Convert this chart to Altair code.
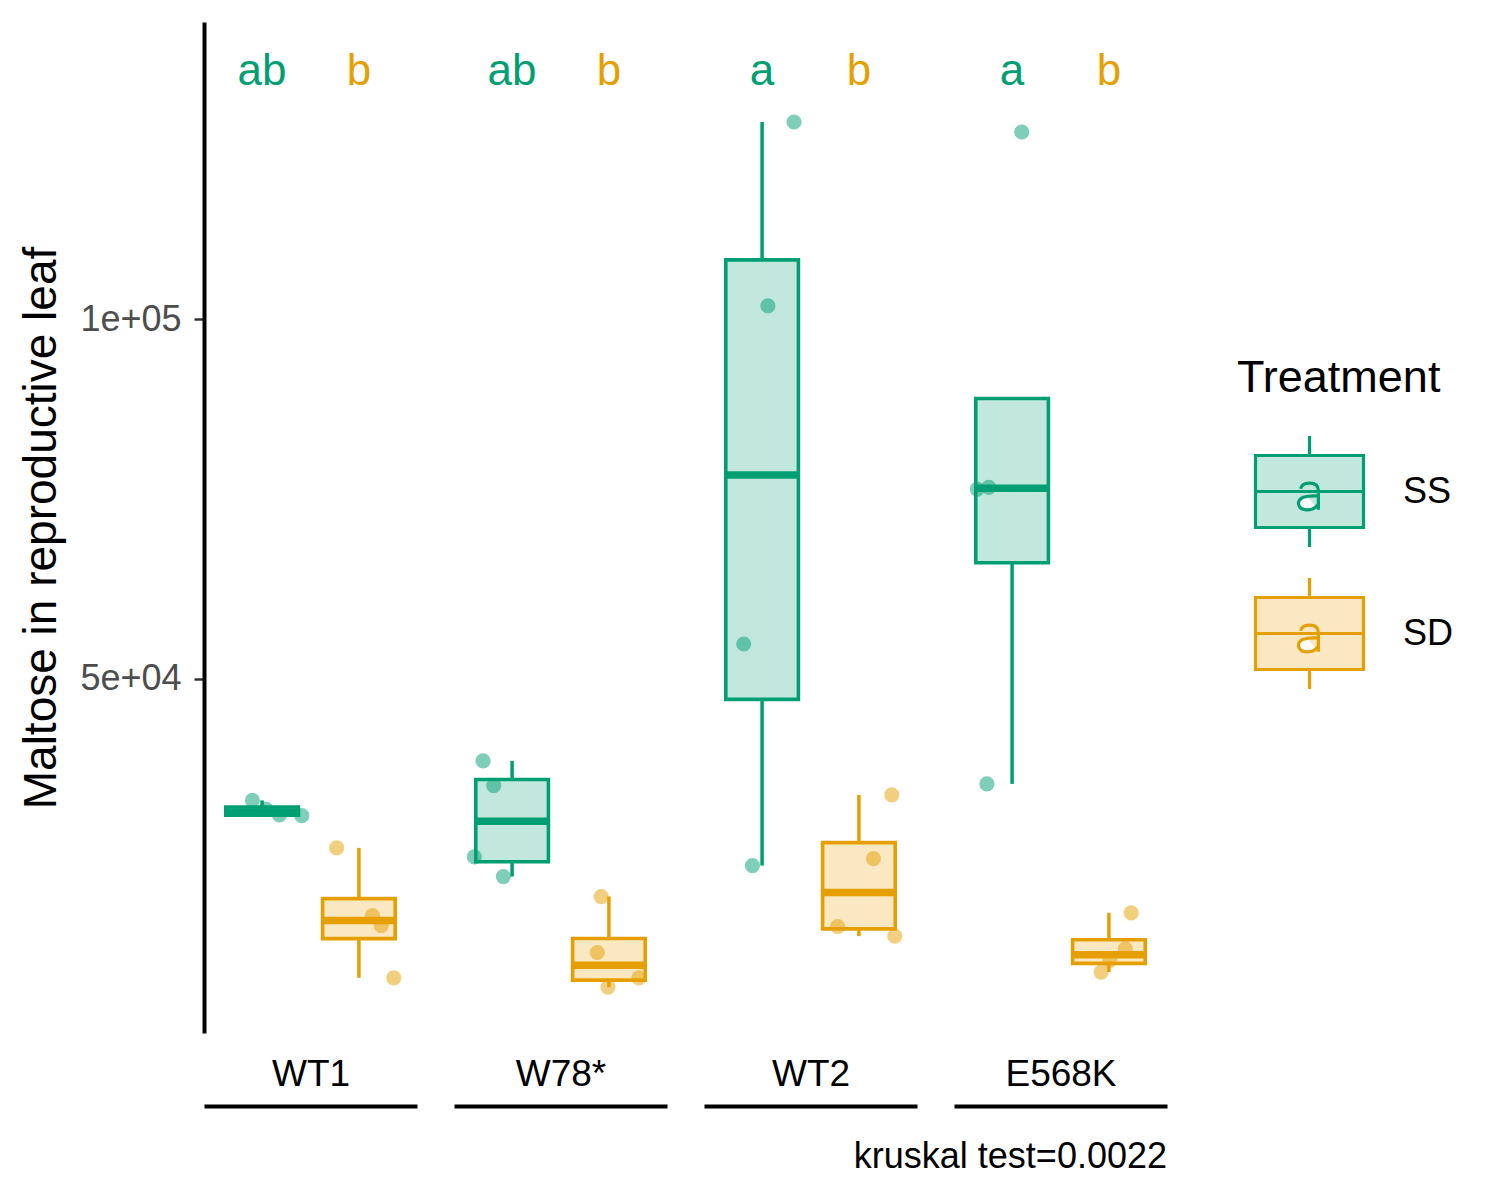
import altair as alt
import numpy as np
import pandas as pd

# ---------------- data ----------------
genotypes = ["WT1", "W78*", "WT2", "E568K"]
treatments = ["SS", "SD"]

wt1_ss = [33125, 31900, 31100, 31000]
wt1_sd = [26528, 17125, 15736, 8472]
w78_ss = [38611, 35181, 25278, 22542]
w78_sd = [19764, 11986, 8472, 7181]
wt2_ss = [127403, 101847, 54861, 24069]
wt2_sd = [33889, 25042, 15597, 14264]
e568k_ss = [126014, 76625, 76389, 35417]
e568k_sd = [17500, 12500, 10875, 9264]

# horizontal jitter of each point (in category steps)
wt1_ss_jit = [-0.10, 0.04, 0.18, 0.41]
wt1_sd_jit = [-0.23, 0.14, 0.23, 0.36]
w78_ss_jit = [-0.30, -0.19, -0.39, -0.09]
w78_sd_jit = [-0.08, -0.12, 0.31, -0.01]
wt2_ss_jit = [0.33, 0.06, -0.19, -0.10]
wt2_sd_jit = [0.34, 0.15, -0.22, 0.37]
e568k_ss_jit = [0.10, -0.24, -0.36, -0.26]
e568k_sd_jit = [0.23, 0.17, 0.01, -0.08]

ss_letters = ["ab", "ab", "a", "a"]
sd_letters = ["b", "b", "b", "b"]
caption = "kruskal test=0.0022"

values = {
    ("WT1", "SS"): (wt1_ss, wt1_ss_jit), ("WT1", "SD"): (wt1_sd, wt1_sd_jit),
    ("W78*", "SS"): (w78_ss, w78_ss_jit), ("W78*", "SD"): (w78_sd, w78_sd_jit),
    ("WT2", "SS"): (wt2_ss, wt2_ss_jit), ("WT2", "SD"): (wt2_sd, wt2_sd_jit),
    ("E568K", "SS"): (e568k_ss, e568k_ss_jit), ("E568K", "SD"): (e568k_sd, e568k_sd_jit),
}

# ---------------- styling constants ----------------
FONT = "Liberation Sans"
GREEN = "#009E73"
ORANGE = "#E69F00"
LETTER_Y = 134400
BOX_HALF = 0.375

pos_of = {"SS": 1, "SD": 2}

pt_rows, box_rows, wk_rows, let_rows = [], [], [], []
for gi, g in enumerate(genotypes):
    for t in treatments:
        v, jit = values[(g, t)]
        p = pos_of[t]
        for val, j in zip(v, jit):
            pt_rows.append({"Genotype": g, "Treatment": t, "xj": p + j, "value": val})
        arr = np.array(v, dtype=float)
        q1, med, q3 = np.percentile(arr, [25, 50, 75])
        iqr = q3 - q1
        inside = arr[(arr >= q1 - 1.5 * iqr) & (arr <= q3 + 1.5 * iqr)]
        lo = min(q1, inside.min())
        hi = max(q3, inside.max())
        box_rows.append({"Genotype": g, "Treatment": t, "pos": p,
                         "x_lo": p - BOX_HALF, "x_hi": p + BOX_HALF,
                         "q1": q1, "med": med, "q3": q3})
        wk_rows.append({"Genotype": g, "Treatment": t, "pos": p, "y": lo, "y2": q1})
        wk_rows.append({"Genotype": g, "Treatment": t, "pos": p, "y": q3, "y2": hi})
    let_rows.append({"Genotype": g, "Treatment": "SS", "pos": 1, "label": ss_letters[gi], "ly": LETTER_Y})
    let_rows.append({"Genotype": g, "Treatment": "SD", "pos": 2, "label": sd_letters[gi], "ly": LETTER_Y})

pts = pd.DataFrame(pt_rows)
boxes = pd.DataFrame(box_rows)
whisk = pd.DataFrame(wk_rows)
lets = pd.DataFrame(let_rows)

xscale = alt.Scale(domain=[0.4, 2.6], nice=False, zero=False)
yscale = alt.Scale(domain=[800, 141300], nice=False, zero=False)

# points/letters colour scale (its own domain order so that its hidden legend
# is not merged with the Treatment legend of the boxes)
color_scale = alt.Scale(domain=["SD", "SS"], range=[ORANGE, GREEN])
stroke_scale = alt.Scale(domain=treatments, range=[GREEN, ORANGE])
fill_scale = alt.Scale(domain=treatments, range=["rgba(0,158,115,0.24)", "rgba(230,159,0,0.24)"])

# legend key: box with whiskers and median, plus the small "a" text key
box_path = ("M-0.973,-0.649H0.973V0.649H-0.973Z "
            "M0,-1V-0.649 M0,0.649V1 M-0.973,0H0.973 "
            "M-0.16,-0.05Q-0.14,-0.15 0,-0.15Q0.16,-0.15 0.16,-0.02V0.33 "
            "M0.16,0.08Q-0.2,0.06 -0.2,0.22Q-0.18,0.33 -0.04,0.33Q0.1,0.33 0.16,0.22")

legend = alt.Legend(
    title="Treatment", orient="none", legendX=1033, legendY=334,
    symbolType=box_path, symbolSize=12321, symbolStrokeWidth=3.2,
    symbolOffset=15, labelOffset=36, rowPadding=17, titlePadding=33,
    titleFontSize=45, titleFontWeight="normal", titleColor="black", titleFont=FONT,
    titleLimit=600, labelLimit=300,
    labelFontSize=36, labelColor="black", labelFont=FONT, padding=0,
)

yaxis = alt.Axis(
    title="Maltose in reproductive leaf", titleFontSize=46, titleFontWeight="normal",
    titleColor="black", titleFont=FONT, titlePadding=14,
    values=[50000, 100000], labelExpr="replace(format(datum.value, '.0e'), 'e+', 'e+0')",
    labelFontSize=36, labelColor="#4D4D4D", labelFont=FONT, labelPadding=13,
    tickColor="#333333", tickWidth=2.5, tickSize=10,
    domainColor="black", domainWidth=4, grid=False,
)


def xaxis(g):
    return alt.Axis(
        title=g, labels=False, ticks=False, grid=False,
        domainColor="black", domainWidth=4, offset=73,
        titleY=-21, titleBaseline="alphabetic", titleFontSize=37,
        titleFontWeight="normal", titleColor="black", titleFont=FONT,
    )


def panel(i, g):
    ya = yaxis if i == 0 else None
    xa = xaxis(g)
    fillenc = alt.Fill("Treatment:N", scale=fill_scale, legend=legend)
    strokeenc = alt.Stroke("Treatment:N", scale=stroke_scale, legend=legend)

    p_pts = alt.Chart(pts[pts.Genotype == g]).mark_circle(size=230, opacity=0.5).encode(
        x=alt.X("xj:Q", scale=xscale, axis=xa),
        y=alt.Y("value:Q", scale=yscale, axis=ya),
        color=alt.Color("Treatment:N", scale=color_scale, legend=None),
    )
    p_wk = alt.Chart(whisk[whisk.Genotype == g]).mark_rule(strokeWidth=3.5).encode(
        x=alt.X("pos:Q", scale=xscale, axis=xa),
        y=alt.Y("y:Q", scale=yscale, axis=ya),
        y2="y2:Q",
        stroke=strokeenc,
    )
    p_box = alt.Chart(boxes[boxes.Genotype == g]).mark_rect(strokeWidth=3.6).encode(
        x=alt.X("x_lo:Q", scale=xscale, axis=xa),
        x2="x_hi:Q",
        y=alt.Y("q1:Q", scale=yscale, axis=ya),
        y2="q3:Q",
        fill=fillenc,
        stroke=strokeenc,
    )
    p_med = alt.Chart(boxes[boxes.Genotype == g]).mark_rule(strokeWidth=7.5).encode(
        x=alt.X("x_lo:Q", scale=xscale, axis=xa),
        x2="x_hi:Q",
        y=alt.Y("med:Q", scale=yscale, axis=ya),
        stroke=strokeenc,
    )
    p_let = alt.Chart(lets[lets.Genotype == g]).mark_text(
        fontSize=44, baseline="middle", align="center", font=FONT
    ).encode(
        x=alt.X("pos:Q", scale=xscale, axis=xa),
        y=alt.Y("ly:Q", scale=yscale, axis=ya),
        text="label:N",
        color=alt.Color("Treatment:N", scale=color_scale, legend=None),
    )
    ch = alt.layer(p_pts, p_wk, p_box, p_med, p_let).properties(width=213, height=1011)
    if i == len(genotypes) - 1:
        ch = ch.properties(title=alt.TitleParams(
            caption, orient="bottom", anchor="end", frame="group",
            fontSize=36, fontWeight="normal", color="black", font=FONT, offset=34,
        ))
    return ch


chart = (
    alt.hconcat(*[panel(i, g) for i, g in enumerate(genotypes)], spacing=37, bounds="flush")
    .resolve_scale(fill="shared", stroke="shared", color="shared")
    .resolve_legend(fill="shared", stroke="shared")
    .properties(padding={"left": 10, "top": 14, "right": 5, "bottom": 5})
    .configure(font=FONT)
    .configure_view(stroke=None)
)

chart.save("out.html", embed_options={"renderer": "svg", "actions": False})
